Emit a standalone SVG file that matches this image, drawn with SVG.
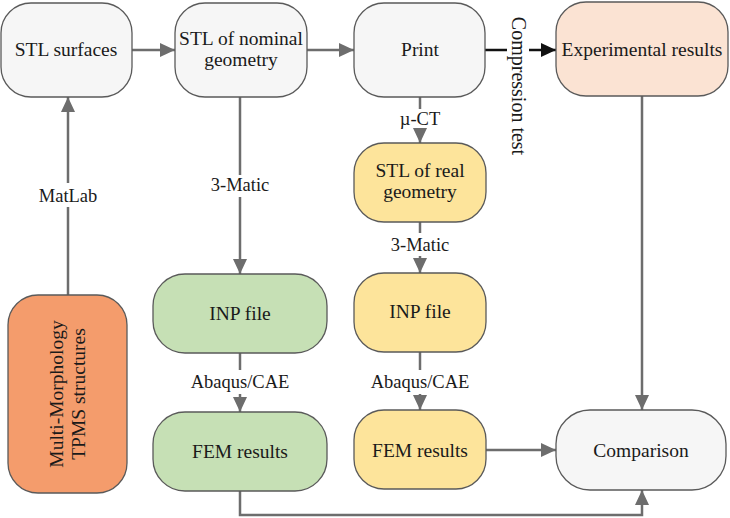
<svg xmlns="http://www.w3.org/2000/svg" width="730" height="518" viewBox="0 0 730 518">
<defs>
<style>
.n{stroke:#5a5a5a;stroke-width:1.3}
.g{fill:#f6f6f6}
.e{fill:#fbe3d3}
.y{fill:#fde49b}
.gr{fill:#c6e0b5}
.o{fill:#f49c6c}
text{font-family:"Liberation Serif","Times New Roman",serif;fill:#1a1a1a}
.t{font-size:19.5px;text-anchor:middle}
.l{font-size:18.5px;text-anchor:middle}
.c{stroke:#6d6d6d;stroke-width:2.5;fill:none}
.k{stroke:#111;stroke-width:2.5;fill:none}
</style>
<marker id="a" markerUnits="userSpaceOnUse" markerWidth="15" markerHeight="14" refX="15" refY="7" orient="auto"><path d="M0,0 L15,7 L0,14 z" fill="#6d6d6d"/></marker>
<marker id="b" markerUnits="userSpaceOnUse" markerWidth="15" markerHeight="14" refX="15" refY="7" orient="auto"><path d="M0,0 L15,7 L0,14 z" fill="#111"/></marker>
</defs>
<rect width="730" height="518" fill="#fff"/>
<g id="connectors">
<path class="c" d="M132,50 H175" marker-end="url(#a)"/>
<path class="c" d="M307,50 H354" marker-end="url(#a)"/>
<path class="k" d="M485,50 H507"/>
<path class="k" d="M529,50 H556" marker-end="url(#b)"/>
<path class="c" d="M420,97 V109"/>
<path class="c" d="M420,129 V143" marker-end="url(#a)"/>
<path class="c" d="M420,222 V233"/>
<path class="c" d="M420,256 V273" marker-end="url(#a)"/>
<path class="c" d="M420,352 V370"/>
<path class="c" d="M420,394 V410" marker-end="url(#a)"/>
<path class="c" d="M240,97 V175"/>
<path class="c" d="M240,197 V274" marker-end="url(#a)"/>
<path class="c" d="M240,353 V370"/>
<path class="c" d="M240,394 V412" marker-end="url(#a)"/>
<path class="c" d="M68,295 V207"/>
<path class="c" d="M68,183 V97" marker-end="url(#a)"/>
<path class="c" d="M486,450 H556" marker-end="url(#a)"/>
<path class="c" d="M642,96 V410" marker-end="url(#a)"/>
<path class="c" d="M240,491 V515 H642 V490" marker-end="url(#a)"/>
<text class="l" x="420" y="125">µ-CT</text>
<text class="l" x="420" y="251">3-Matic</text>
<text class="l" x="420" y="388">Abaqus/CAE</text>
<text class="l" x="240" y="191">3-Matic</text>
<text class="l" x="240" y="388">Abaqus/CAE</text>
<text class="l" x="68" y="202">MatLab</text>
<text class="l" transform="translate(512,86) rotate(90)" style="font-size:20px">Compression test</text>
</g>
<g id="stl-surfaces"><rect class="n g" x="1" y="3" width="131" height="94" rx="30"/><text class="t" x="66" y="56">STL surfaces</text></g>
<g id="stl-nominal"><rect class="n g" x="175" y="3" width="132" height="94" rx="30"/><text class="t" x="241" y="45">STL of nominal</text><text class="t" x="241" y="66">geometry</text></g>
<g id="print"><rect class="n g" x="354" y="3" width="131" height="94" rx="30"/><text class="t" x="420" y="56">Print</text></g>
<g id="experimental"><rect class="n e" x="556" y="2" width="172" height="94" rx="30"/><text class="t" x="642" y="56">Experimental results</text></g>
<g id="stl-real"><rect class="n y" x="354" y="143" width="132" height="79" rx="30"/><text class="t" x="420" y="177">STL of real</text><text class="t" x="420" y="198">geometry</text></g>
<g id="inp-green"><rect class="n gr" x="153" y="274" width="174" height="79" rx="32"/><text class="t" x="240" y="320">INP file</text></g>
<g id="fem-green"><rect class="n gr" x="153" y="412" width="174" height="79" rx="32"/><text class="t" x="240" y="458">FEM results</text></g>
<g id="inp-yellow"><rect class="n y" x="354" y="273" width="132" height="79" rx="30"/><text class="t" x="420" y="318">INP file</text></g>
<g id="fem-yellow"><rect class="n y" x="354" y="410" width="132" height="79" rx="30"/><text class="t" x="420" y="457">FEM results</text></g>
<g id="comparison"><rect class="n g" x="556" y="410" width="170" height="80" rx="34"/><text class="t" x="641" y="457">Comparison</text></g>
<g id="multi-morphology"><rect class="n o" x="8" y="295" width="119" height="198" rx="30"/><text class="t" transform="translate(63,394) rotate(-90)">Multi-Morphology</text><text class="t" transform="translate(85,394) rotate(-90)">TPMS structures</text></g>
</svg>
